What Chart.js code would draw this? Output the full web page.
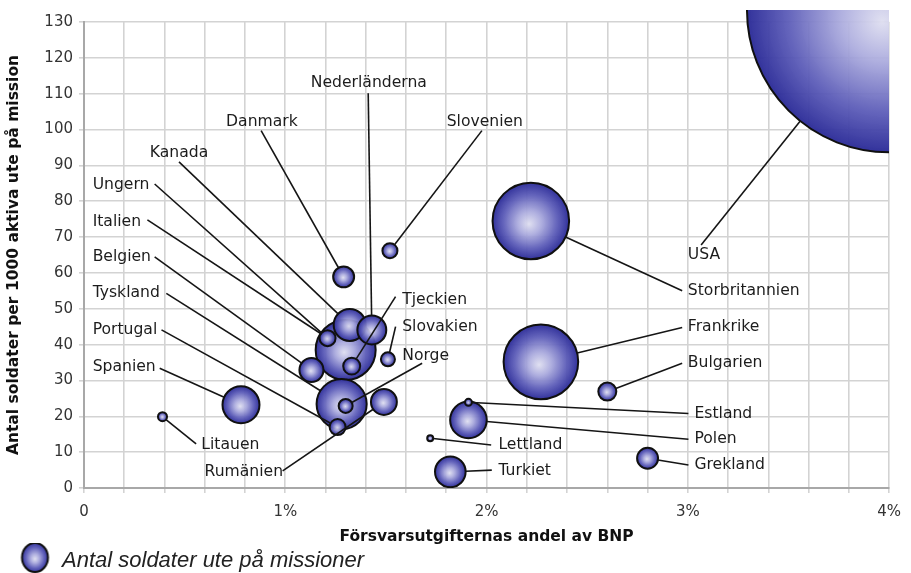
<!DOCTYPE html>
<html>
<head>
<meta charset="utf-8">
<script src="https://cdn.jsdelivr.net/npm/chart.js@4.4.0/dist/chart.umd.min.js"></script>
<style>
  html, body { margin: 0; padding: 0; background: #ffffff; }
  #wrap { width: 911px; height: 573px; }
</style>
</head>
<body>
<div id="wrap"><canvas id="c" width="911" height="573"></canvas></div>
<script>
// ---------------- DATA ----------------
const countries = [
  'USA', 'Storbritannien', 'Frankrike', 'Italien', 'Tyskland', 'Spanien', 'Polen', 'Kanada',
  'Turkiet', 'Nederländerna', 'Rumänien', 'Belgien', 'Grekland', 'Danmark', 'Bulgarien',
  'Tjeckien', 'Ungern', 'Portugal', 'Slovenien', 'Slovakien', 'Norge', 'Litauen', 'Estland', 'Lettland'
];
// Försvarsutgifternas andel av BNP (%)
const defenseShare = [
  4.00, 2.22, 2.27, 1.30, 1.28, 0.78, 1.91, 1.32,
  1.82, 1.43, 1.49, 1.13, 2.80, 1.29, 2.60,
  1.33, 1.21, 1.26, 1.52, 1.51, 1.30, 0.39, 1.91, 1.72
];
// Antal soldater per 1000 aktiva ute på mission
const soldiersPer1000 = [
  133.3, 74.5, 35.2, 38.5, 23.4, 23.2, 19.0, 45.5,
  4.5, 44.1, 24.0, 32.9, 8.3, 58.9, 26.9,
  34.0, 41.8, 17.0, 66.2, 35.9, 22.9, 19.9, 23.9, 13.9
];
// Antal soldater ute på missioner (bubble size)
const soldiersOnMission = [
  193000, 14000, 13300, 8600, 6000, 3270, 3200, 2450,
  2240, 2000, 1600, 1380, 1050, 1050, 775,
  690, 610, 610, 540, 470, 470, 195, 117, 86
];

const xTickValues = [0, 1, 2, 3, 4];
const xTickLabels = ['0', '1%', '2%', '3%', '4%'];
const xTitle = 'Försvarsutgifternas andel av BNP';
const yTitle = 'Antal soldater per 1000 aktiva ute på mission';
const seriesLabel = 'Antal soldater ute på missioner';

// Annotation placement (in data units): label text anchor (left, middle) and leader-line start
const labelPos = [
  [3.000, 65.0], [3.000, 55.0], [3.000, 44.8], [0.043, 74.3], [0.043, 54.3], [0.043, 33.8], [3.033, 13.6], [0.327, 93.4],
  [2.059, 4.8], [1.127, 112.9], [0.599, 4.5], [0.043, 64.4], [3.033, 6.4], [0.706, 102.2], [3.000, 34.8],
  [1.581, 52.6], [0.043, 84.5], [0.043, 44.1], [1.802, 102.2], [1.581, 45.0], [1.581, 36.8], [0.583, 12.0], [3.033, 20.8], [2.059, 12.0]
];
const leaderFrom = [
  [3.066, 67.8], [2.972, 55.0], [2.972, 44.8], [0.315, 74.8], [0.409, 54.3], [0.376, 33.4], [3.003, 13.6], [0.472, 91.0],
  [2.026, 5.0], [1.412, 110.1], [0.987, 4.8], [0.351, 64.5], [3.003, 6.4], [0.880, 99.7], [2.972, 34.8],
  [1.548, 53.4], [0.351, 84.8], [0.385, 44.1], [1.977, 99.7], [1.548, 45.0], [1.680, 34.8], [0.557, 12.3], [3.003, 20.8], [2.023, 12.0]
];

// ---------------- STYLE ----------------
const BUBBLE_SCALE = 0.3235; // px per sqrt(soldier)
const radiusFor = n => BUBBLE_SCALE * Math.sqrt(n);

const points = countries.map((c, i) => ({
  x: defenseShare[i], y: soldiersPer1000[i], r: radiusFor(soldiersOnMission[i])
}));

function addStops(g) {
  g.addColorStop(0, 'rgba(222,222,240,0.94)');
  g.addColorStop(0.3, 'rgba(172,172,222,0.94)');
  g.addColorStop(0.7, 'rgba(92,92,184,0.95)');
  g.addColorStop(1, 'rgba(44,44,152,0.97)');
  return g;
}

function bubbleFill(c) {
  const flat = '#5a5ab8';
  if (c.type !== 'data' || !c.raw || !c.chart.scales || !c.chart.scales.x) return flat;
  const ch = c.chart;
  const cx = ch.scales.x.getPixelForValue(c.raw.x);
  const cy = ch.scales.y.getPixelForValue(c.raw.y);
  const r = c.raw.r;
  if (![cx, cy, r].every(Number.isFinite)) return flat;
  return addStops(ch.ctx.createRadialGradient(cx - 0.05 * r, cy + 0.08 * r, 0, cx, cy, r));
}

// legend icon
const icon = document.createElement('canvas');
icon.width = 40; icon.height = 36;
(function () {
  const ic = icon.getContext('2d');
  ic.save();
  ic.translate(24.5, 14.5);
  ic.scale(13 / 14.5, 1);
  ic.beginPath();
  ic.arc(0, 0, 14.5, 0, Math.PI * 2);
  ic.fillStyle = addStops(ic.createRadialGradient(0, 1.5, 0, 0, 0, 14.5));
  ic.fill();
  ic.restore();
  ic.beginPath();
  ic.ellipse(24.5, 14.5, 13, 14.5, 0, 0, Math.PI * 2);
  ic.lineWidth = 2;
  ic.strokeStyle = '#111';
  ic.stroke();
})();

const leaderLabels = {
  id: 'leaderLabels',
  afterDatasetsDraw(chart) {
    const { ctx, scales: { x, y } } = chart;
    const meta = chart.getDatasetMeta(0);
    ctx.save();
    ctx.strokeStyle = '#151515';
    ctx.lineWidth = 1.6;
    countries.forEach((name, i) => {
      const el = meta.data[i];
      const cx = el.x, cy = el.y, r = points[i].r;
      const sx = x.getPixelForValue(leaderFrom[i][0]);
      const sy = y.getPixelForValue(leaderFrom[i][1]);
      const dx = sx - cx, dy = sy - cy, d = Math.hypot(dx, dy) || 1;
      ctx.beginPath();
      ctx.moveTo(sx, sy);
      ctx.lineTo(cx + dx / d * r, cy + dy / d * r);
      ctx.stroke();
    });
    ctx.fillStyle = '#1c1c1c';
    ctx.font = '15.6px "DejaVu Sans"';
    ctx.textAlign = 'left';
    ctx.textBaseline = 'middle';
    countries.forEach((name, i) => {
      ctx.fillText(name, x.getPixelForValue(labelPos[i][0]), y.getPixelForValue(labelPos[i][1]));
    });
    ctx.restore();
  }
};

Chart.defaults.font.family = 'DejaVu Sans';

new Chart(document.getElementById('c'), {
  type: 'bubble',
  data: {
    datasets: [{
      label: seriesLabel,
      data: points,
      backgroundColor: bubbleFill,
      borderColor: '#101010',
      borderWidth: 2,
      clip: { left: 0, top: 12, right: 0, bottom: 0 }
    }]
  },
  options: {
    responsive: false,
    animation: false,
    events: [],
    devicePixelRatio: 1,
    layout: { autoPadding: false, padding: { left: 0, right: 19, top: 22, bottom: -9 } },
    scales: {
      x: {
        type: 'linear', min: 0, max: 4,
        ticks: {
          stepSize: 0.2, autoSkip: false, maxTicksLimit: 100, maxRotation: 0, padding: 10,
          color: '#333', font: { size: 15 },
          callback: v => {
            const k = xTickValues.findIndex(t => Math.abs(t - v) < 1e-6);
            return k >= 0 ? xTickLabels[k] : '';
          }
        },
        grid: { color: '#d3d3d3', lineWidth: 1.6, tickLength: 5 },
        border: { color: '#a8a8a8', width: 2 },
        title: {
          display: true, text: xTitle, color: '#111',
          font: { size: 15.5, weight: 'bold' }, padding: { top: 0, bottom: -6 }
        },
        afterFit: s => { s.height = 52; }
      },
      y: {
        type: 'linear', min: 0, max: 130,
        ticks: { stepSize: 10, maxTicksLimit: 100, padding: 6, color: '#333', font: { size: 15 } },
        grid: { color: '#d3d3d3', lineWidth: 1.6, tickLength: 5 },
        border: { color: '#a8a8a8', width: 2 },
        title: {
          display: true, text: yTitle, color: '#111',
          font: { size: 15.5, weight: 'bold' }, padding: { top: 5, bottom: 0 }
        },
        afterFit: s => { s.width = 84; }
      }
    },
    plugins: {
      tooltip: { enabled: false },
      legend: {
        display: true, position: 'bottom', align: 'start',
        labels: {
          usePointStyle: true, pointStyle: icon, pointStyleWidth: 41, padding: 10,
          color: '#222', font: { family: 'Liberation Sans', size: 22, style: 'italic' }
        }
      }
    }
  },
  plugins: [leaderLabels]
});
</script>
</body>
</html>
